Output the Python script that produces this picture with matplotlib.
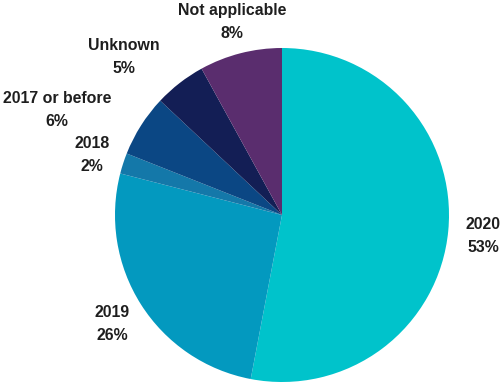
import matplotlib
matplotlib.use("Agg")
import matplotlib.pyplot as plt

categories = ["2020", "2019", "2018", "2017 or before", "Unknown", "Not applicable"]
shares = [53, 26, 2, 6, 5, 8]
colors = ["#00C3CB", "#0399BF", "#1478A9", "#0B4784", "#131E55", "#5A2D6E"]

# label anchor points (pixel coords from top-left of the canvas)
label_xy = [(483, 236), (112, 324), (92, 155), (57, 110), (124, 57), (232, 22)]

W, H = 502, 385
fig = plt.figure(figsize=(W / 100, H / 100), dpi=100)
ax = fig.add_axes([0, 0, 1, 1])

ax.pie(shares, colors=colors, startangle=90, counterclock=False,
       center=(282, H - 215), radius=167, frame=True,
       wedgeprops=dict(linewidth=0))
ax.set_xlim(0, W)
ax.set_ylim(0, H)
ax.set_aspect("equal")
ax.axis("off")

for name, val, (x, y) in zip(categories, shares, label_xy):
    ax.text(x, H - y, f"{name}\n{val}%", ha="center", va="center",
            fontsize=11.4, fontweight="bold", family="Liberation Sans",
            color="#1e1e1e", linespacing=1.6)

fig.savefig("out.png", dpi=100)
